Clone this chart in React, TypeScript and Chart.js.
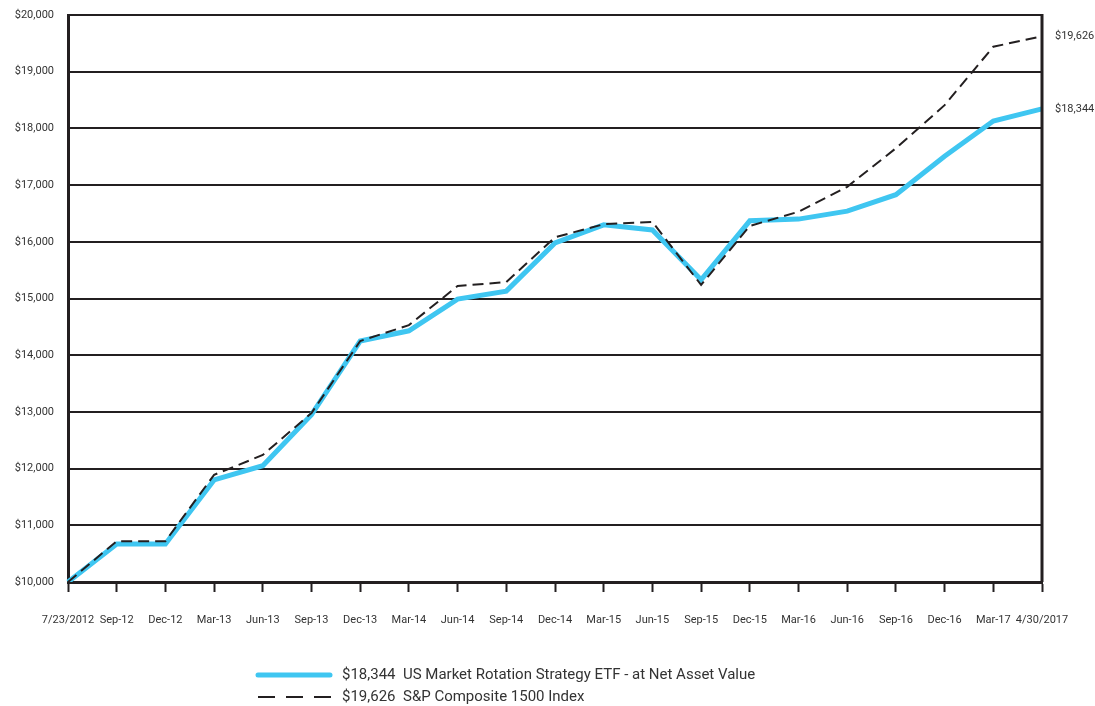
import React, { useEffect, useRef } from "react";
import { Chart, registerables } from "chart.js";

Chart.register(...registerables);

const categories = [
  "7/23/2012", "Sep-12", "Dec-12", "Mar-13", "Jun-13", "Sep-13", "Dec-13",
  "Mar-14", "Jun-14", "Sep-14", "Dec-14", "Mar-15", "Jun-15", "Sep-15",
  "Dec-15", "Mar-16", "Jun-16", "Sep-16", "Dec-16", "Mar-17", "4/30/2017",
];

const etfValues = [
  10000, 10670, 10670, 11800, 12050, 12950, 14250, 14430, 14990, 15130,
  15980, 16300, 16210, 15330, 16370, 16400, 16540, 16830, 17510, 18130, 18344,
];

const spValues = [
  10000, 10720, 10720, 11890, 12240, 12980, 14250, 14530, 15220, 15290,
  16080, 16310, 16350, 15240, 16280, 16530, 16970, 17650, 18410, 19440, 19626,
];

const seriesNames = [
  "$18,344  US Market Rotation Strategy ETF - at Net Asset Value",
  "$19,626  S&P Composite 1500 Index",
];
const endLabels = ["$18,344", "$19,626"];

const BLUE = "#3fc6f1";
const FONT = "Roboto, 'Open Sans', sans-serif";

export default function App() {
  const ref = useRef<HTMLCanvasElement | null>(null);

  useEffect(() => {
    if (!ref.current) return;
    const extras = {
      id: "extras",
      afterDraw(chart: any) {
        const ctx = chart.ctx;
        const area = chart.chartArea;
        const y = chart.scales.y;
        ctx.save();
        // right border
        ctx.strokeStyle = "#231f20";
        ctx.lineWidth = 3;
        ctx.beginPath();
        ctx.moveTo(area.right, area.top - 1);
        ctx.lineTo(area.right, area.bottom);
        ctx.stroke();
        // end labels
        ctx.fillStyle = "#333";
        ctx.font = `11px ${FONT}`;
        ctx.textAlign = "left";
        ctx.textBaseline = "middle";
        ctx.fillText(endLabels[0], area.right + 13, y.getPixelForValue(etfValues[etfValues.length - 1]));
        ctx.fillText(endLabels[1], area.right + 13, y.getPixelForValue(spValues[spValues.length - 1]));
        // legend
        const lx0 = 258, lx1 = 330, ty0 = 675, ty1 = 697;
        ctx.lineCap = "round";
        ctx.strokeStyle = BLUE;
        ctx.lineWidth = 5;
        ctx.beginPath();
        ctx.moveTo(lx0, ty0);
        ctx.lineTo(lx1, ty0);
        ctx.stroke();
        ctx.lineCap = "butt";
        ctx.strokeStyle = "#231f20";
        ctx.lineWidth = 2;
        ctx.setLineDash([17, 11]);
        ctx.beginPath();
        ctx.moveTo(lx0, ty1);
        ctx.lineTo(lx1 + 2, ty1);
        ctx.stroke();
        ctx.setLineDash([]);
        ctx.fillStyle = "#333";
        ctx.font = `15px ${FONT}`;
        ctx.fillText(seriesNames[0], 342, ty0);
        ctx.fillText(seriesNames[1], 342, ty1);
        ctx.restore();
      },
    };

    const chart = new Chart(ref.current, {
      type: "line",
      data: {
        labels: categories,
        datasets: [
          {
            label: seriesNames[1],
            data: spValues,
            borderColor: "#231f20",
            borderWidth: 2,
            borderDash: [11, 6],
            pointRadius: 0,
            tension: 0,
            fill: false,
          },
          {
            label: seriesNames[0],
            data: etfValues,
            borderColor: BLUE,
            borderWidth: 5,
            pointRadius: 0,
            tension: 0,
            fill: false,
          },
        ],
      },
      options: {
        responsive: false,
        animation: false,
        layout: { padding: { left: 0, top: 15, right: 53, bottom: 74 } },
        plugins: { legend: { display: false }, tooltip: { enabled: false } },
        scales: {
          x: {
            type: "category",
            offset: false,
            grid: {
              drawOnChartArea: false,
              drawTicks: true,
              tickLength: 10,
              tickColor: "#231f20",
              tickWidth: 2,
            },
            border: { color: "#231f20", width: 3 },
            ticks: {
              autoSkip: false,
              maxRotation: 0,
              padding: 22,
              color: "#333",
              font: { family: FONT, size: 11 },
            },
            afterFit: (s: any) => { s.height = 50; s.paddingLeft = 0; s.paddingRight = 0; },
          },
          y: {
            min: 10000,
            max: 20000,
            grid: { color: "#231f20", lineWidth: 2, drawTicks: false },
            border: { color: "#231f20", width: 3 },
            ticks: {
              stepSize: 1000,
              padding: 14,
              color: "#333",
              font: { family: FONT, size: 11 },
              callback: (v: any) => "$" + Number(v).toLocaleString("en-US"),
            },
            afterFit: (s: any) => { s.width = 68; s.paddingTop = 0; s.paddingBottom = 0; },
          },
        },
      },
      plugins: [extras],
    });
    return () => chart.destroy();
  }, []);

  return (
    <div style={{ position: "fixed", left: 0, top: 0, width: 1095, height: 706, background: "#fff" }}>
      <canvas ref={ref} width={1095} height={706} style={{ width: 1095, height: 706 }} />
    </div>
  );
}
